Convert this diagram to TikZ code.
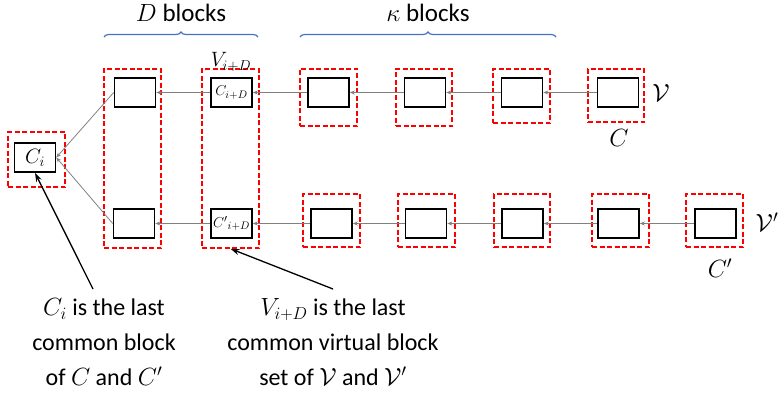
\documentclass[tikz,border=0pt]{standalone}
\usepackage{fontspec}
\setmainfont{Carlito}
\usetikzlibrary{arrows.meta,decorations.pathreplacing,calc}
\definecolor{braceblue}{HTML}{4472C4}
\begin{document}
\begin{tikzpicture}[x=1pt,y=-1pt,
  blk/.style={draw=black,line width=1.6pt,minimum width=41pt,minimum height=29pt,inner sep=0pt,fill=white},
  vset/.style={draw=red,dash pattern=on 5pt off 2.5pt,line width=1.5pt,inner sep=0pt},
  sq/.style={vset,minimum width=57pt,minimum height=55pt},
  col/.style={vset,minimum width=57pt,minimum height=179pt},
  link/.style={draw=gray,line width=0.8pt,-{Stealth[length=5pt,width=4pt]}},
  note/.style={-{Stealth[length=9pt,width=6pt]},line width=1.3pt,black},
  brc/.style={decorate,decoration={brace,amplitude=5pt},draw=braceblue,line width=1.2pt},
  big/.style={font=\fontsize{24}{35}\selectfont,align=center,inner sep=0pt},
  lbl/.style={font=\fontsize{24}{28}\selectfont,inner sep=0pt}
]
\useasboundingbox (0,0) rectangle (779,396);

% braces and titles
\coordinate (bda) at (104,37);
\coordinate (bdb) at (258,37);
\coordinate (bka) at (300,37);
\coordinate (bkb) at (556,37);
\draw[brc] (bda) -- (bdb);
\draw[brc] (bka) -- (bkb);
\node[lbl,font=\fontsize{25}{28}\selectfont] (tD) at (181,13) {$D$ blocks};
\node[lbl,font=\fontsize{25}{28}\selectfont] (tK) at (428,13) {$\kappa$ blocks};

% red dashed virtual block sets
\node[sq,minimum height=55pt] (vc) at (36.5,159.5) {};
\node[col] (v1) at (132.5,158.5) {};
\node[col] (v2) at (230.5,158.5) {};
\node[sq,minimum height=57pt] (vt1) at (328.5,97.5) {};
\node[sq,minimum height=57pt,minimum width=56pt] (vt2) at (424,97.5) {};
\node[sq,minimum height=54pt] (vt3) at (521.5,96) {};
\node[sq,minimum height=53pt,minimum width=56pt] (vt4) at (616,95.5) {};
\node[sq,minimum height=53pt] (vb1) at (331.5,220.5) {};
\node[sq,minimum height=53pt] (vb2) at (426.5,220.5) {};
\node[sq,minimum height=53pt,minimum width=56pt] (vb3) at (522,220.5) {};
\node[sq,minimum height=53pt] (vb4) at (620.5,220.5) {};
\node[sq,minimum height=53pt] (vb5) at (714.5,220.5) {};

% blocks
\node[blk,font=\fontsize{20}{22}\selectfont] (ci) at (35,157.5) {$C_i$};
\node[blk] (c1t) at (135,92.5) {};
\node[blk,font=\fontsize{15}{17}\selectfont] (c2t) at (231.5,92.5) {$C_{i+D}$};
\node[blk] (t1) at (328.5,92.5) {};
\node[blk] (t2) at (425,92.5) {};
\node[blk] (t3) at (522,92.5) {};
\node[blk] (t4) at (618,92.5) {};
\node[blk] (c1b) at (134,223.5) {};
\node[blk,font=\fontsize{15}{17}\selectfont] (c2b) at (231.5,223.5) {${C'}_{i+D}$};
\node[blk] (b1) at (331.5,223.5) {};
\node[blk] (b2) at (426,223.5) {};
\node[blk] (b3) at (522.5,223.5) {};
\node[blk] (b4) at (618.5,223.5) {};
\node[blk] (b5) at (715.5,223.5) {};

% chain links
\draw[link] (t4.west) -- (t3.east);
\draw[link] (t3.west) -- (t2.east);
\draw[link] (t2.west) -- (t1.east);
\draw[link] (t1.west) -- (c2t.east);
\draw[link] (c2t.west) -- (c1t.east);
\draw[link] (c1t.west) -- (ci.east);
\draw[link] (b5.west) -- (b4.east);
\draw[link] (b4.west) -- (b3.east);
\draw[link] (b3.west) -- (b2.east);
\draw[link] (b2.west) -- (b1.east);
\draw[link] (b1.west) -- (c2b.east);
\draw[link] (c2b.west) -- (c1b.east);
\draw[link] (c1b.west) -- (ci.east);

% labels
\node[lbl,font=\fontsize{21}{24}\selectfont] (lv) at (231,62) {$V_{i+D}$};
\node[lbl,font=\fontsize{26}{28}\selectfont] (lcal) at (661,93) {$\mathcal{V}$};
\node[lbl,font=\fontsize{24}{28}\selectfont] (lc) at (619,138) {$C$};
\node[lbl,font=\fontsize{26}{28}\selectfont] (lcalp) at (767,222) {$\mathcal{V}'$};
\node[lbl,font=\fontsize{24}{28}\selectfont] (lcp) at (720,268) {$C'$};

% annotations
\node[big] (n1) at (104,342) {$C_i$ is the last\\common block\\of $C$ and $C'$};
\node[big] (n2) at (333,342) {$V_{i+D}$ is the last\\common virtual block\\set of $\mathcal{V}$ and $\mathcal{V}'$};
\coordinate (a1) at (93,289);
\coordinate (a2) at (333,289);
\draw[note] (a1) -- (ci.south);
\draw[note] (a2) -- (v2.south);
\end{tikzpicture}
\end{document}
